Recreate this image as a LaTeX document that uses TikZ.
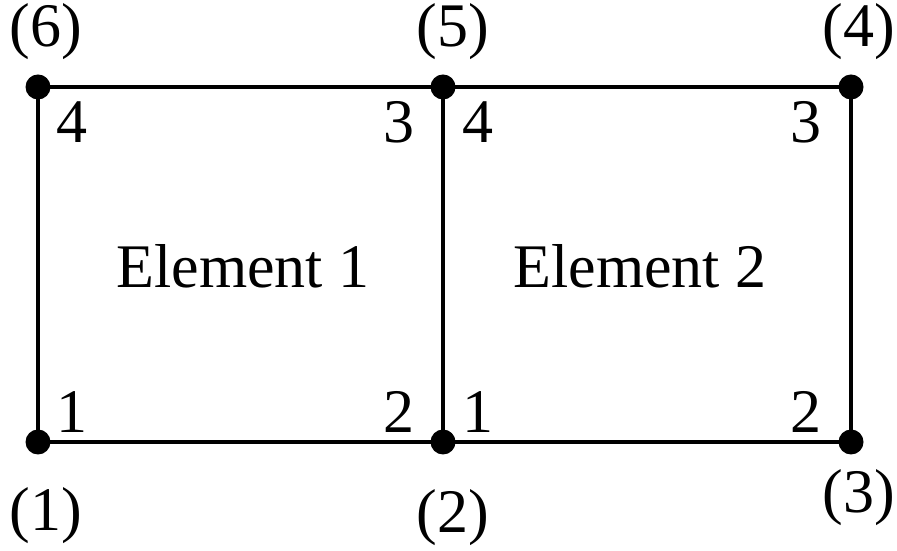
\documentclass[tikz,border=0pt]{standalone}
\usepackage{fontspec}
\setmainfont{Liberation Serif}
\usetikzlibrary{positioning}

\begin{document}
\begin{tikzpicture}[x=0.5pt,y=0.5pt,
    gnode/.style={circle,fill,inner sep=0pt,minimum size=12.5pt},
    lbl/.style={inner sep=0pt,font=\fontsize{31}{36}\selectfont}]
  \useasboundingbox (0,0) rectangle (897,550);
  % global nodes
  \coordinate (n1) at (38,108);
  \coordinate (n2) at (443,108);
  \coordinate (n3) at (851,108);
  \coordinate (n4) at (851,463);
  \coordinate (n5) at (443,463);
  \coordinate (n6) at (38,463);
  \draw[line width=2pt,line join=miter] (n1) -- (n2) -- (n3) -- (n4) -- (n5) -- (n6) -- cycle;
  \draw[line width=2pt] (n2) -- (n5);
  \foreach \n in {n1,n2,n3,n4,n5,n6}
    \node[gnode] at (\n) {};
  % global numbers
  \node[lbl] (g1) at (46,34) {(1)};
  \node[lbl] (g2) at (453,32) {(2)};
  \node[lbl] (g3) at (859,52) {(3)};
  \node[lbl] (g4) at (859,518) {(4)};
  \node[lbl] (g5) at (453,518) {(5)};
  \node[lbl] (g6) at (46,518) {(6)};
  % local numbers
  \node[lbl] (a1) at (72,138) {1};
  \node[lbl] (a2) at (399,138) {2};
  \node[lbl] (a3) at (399,428) {3};
  \node[lbl] (a4) at (72,428) {4};
  \node[lbl] (b1) at (478,138) {1};
  \node[lbl] (b2) at (806,138) {2};
  \node[lbl] (b3) at (806,428) {3};
  \node[lbl] (b4) at (478,428) {4};
  % elements
  \node[lbl] (e1) at (243,284) {Element 1};
  \node[lbl] (e2) at (640,284) {Element 2};
\end{tikzpicture}
\end{document}
